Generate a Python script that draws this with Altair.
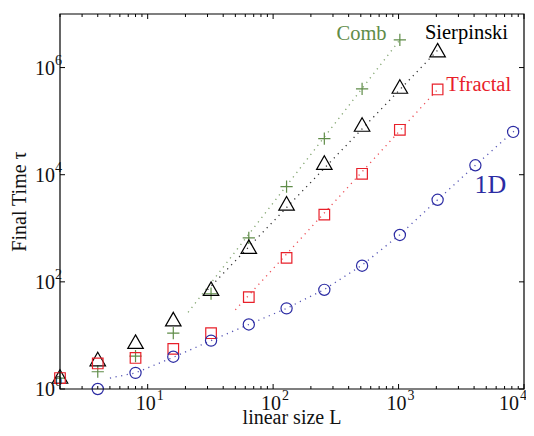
import altair as alt
import pandas as pd

# ---------------- data ----------------
series_names = ["Comb", "Sierpinski", "Tfractal", "1D"]

comb_L = [2, 4, 8, 16, 32, 64, 128, 256, 512, 1024]
comb_tau = [1.6, 2.1, 4.1, 11, 60, 660, 6000, 47000, 400000, 3.3e6]

sier_L = [2, 4, 8, 16, 32, 64, 128, 256, 512, 1024, 2048]
sier_tau = [1.7, 3.6, 7.6, 20, 74, 450, 2900, 16700, 86000, 440000, 2.1e6]

tfr_L = [2, 4, 8, 16, 32, 64, 128, 256, 512, 1024, 2048]
tfr_tau = [1.6, 3.0, 3.8, 5.6, 11, 52, 280, 1800, 10400, 69000, 390000]

oned_L = [4, 8, 16, 32, 64, 128, 256, 512, 1024, 2048, 4096, 8192]
oned_tau = [1.0, 2.0, 4.0, 8.0, 16, 32, 71, 200, 750, 3400, 15000, 63000]

# dotted fit curves
comb_fit_L = [21, 1024]
comb_fit_tau = [27, 3.3e6]
sier_fit_L = [30, 2048]
sier_fit_tau = [71, 2.1e6]
tfr_fit_L = [50, 2048]
tfr_fit_tau = [30, 390000]
oned_fit_L = [5, 8, 16, 32, 64, 128, 256, 512, 1024, 2048, 4096, 8192, 9500]
oned_fit_tau = [1.6, 2.0, 3.9, 8.0, 16, 32, 72, 205, 760, 3400, 15000, 63000, 80000]

# series labels (data coordinates of left end of baseline)
label_text = ["Comb", "Sierpinski", "Tfractal", "1D"]
label_L = [320, 1622, 2400, 4030]
label_tau = [3.27e6, 3.42e6, 3.66e5, 4560]
label_size = [20.5, 20.5, 20.5, 26]

# axes
x_major = [10, 100, 1000, 10000]
x_major_exp = ["1", "2", "3", "4"]
x_minor = [2, 3, 4, 5, 6, 7, 8, 9, 20, 30, 40, 50, 60, 70, 80, 90,
           200, 300, 400, 500, 600, 700, 800, 900,
           2000, 3000, 4000, 5000, 6000, 7000, 8000, 9000]
y_major = [1, 100, 10000, 1000000]
y_major_exp = ["0", "2", "4", "6"]

colors = ["#5f8c48", "#000000", "#e8202a", "#2b2ba3"]
text_colors = ["#6b9455", "#111111", "#e8202a", "#2b2ba3"]
FONT = "Liberation Serif"
W, H = 464, 375

# ---------------- tables ----------------
pts = {
    "Comb": pd.DataFrame({"series": "Comb", "L": comb_L, "tau": comb_tau}),
    "Sierpinski": pd.DataFrame({"series": "Sierpinski", "L": sier_L, "tau": sier_tau}),
    "Tfractal": pd.DataFrame({"series": "Tfractal", "L": tfr_L, "tau": tfr_tau}),
    "1D": pd.DataFrame({"series": "1D", "L": oned_L, "tau": oned_tau}),
}
fits = pd.concat([
    pd.DataFrame({"series": "Comb", "L": comb_fit_L, "tau": comb_fit_tau}),
    pd.DataFrame({"series": "Sierpinski", "L": sier_fit_L, "tau": sier_fit_tau}),
    pd.DataFrame({"series": "Tfractal", "L": tfr_fit_L, "tau": tfr_fit_tau}),
    pd.DataFrame({"series": "1D", "L": oned_fit_L, "tau": oned_fit_tau}),
])
labels = pd.DataFrame({"text": label_text, "L": label_L, "tau": label_tau,
                       "fs": label_size, "series": series_names})

xs = alt.Scale(type="log", domain=[2, 10000], nice=False)
ys = alt.Scale(type="log", domain=[1, 1e7], nice=False)
X = alt.X("L:Q", scale=xs, axis=None)
Y = alt.Y("tau:Q", scale=ys, axis=None)
color = alt.Color("series:N", scale=alt.Scale(domain=series_names, range=colors), legend=None)

shape_of = {
    "Comb": ("M-1,0H1M0,-1V1", 150),
    "Sierpinski": ("M0,-0.9L1,0.85L-1,0.85Z", 240),
    "Tfractal": ("square", 112),
    "1D": ("circle", 125),
}

lines = alt.Chart(fits).mark_line(strokeDash=[1.2, 4.5], strokeWidth=1.3, opacity=0.8).encode(
    x=X, y=Y, color=color, detail="series:N")

point_layers = []
for i, name in enumerate(series_names):
    shp, sz = shape_of[name]
    point_layers.append(
        alt.Chart(pts[name]).mark_point(filled=False, strokeWidth=1.2, opacity=1,
                                        shape=shp, size=sz, color=colors[i]).encode(x=X, y=Y))

series_text = alt.Chart(labels).mark_text(font=FONT, align="left", baseline="alphabetic").encode(
    x=X, y=Y, text="text:N",
    size=alt.Size("fs:Q", scale=None),
    color=alt.Color("series:N", scale=alt.Scale(domain=series_names, range=text_colors), legend=None),
)

frame = alt.Chart(pd.DataFrame({"a": [0]})).mark_rect(
    fillOpacity=0, stroke="black", strokeWidth=1.2).encode(
    x=alt.value(0), x2=alt.value(W), y=alt.value(0), y2=alt.value(H))

xmaj = pd.DataFrame({"L": x_major, "e": x_major_exp})
xmin = pd.DataFrame({"L": x_minor})
ymaj = pd.DataFrame({"tau": y_major, "e": y_major_exp})

tick_layers = []
for df, ln in [(xmaj, 5), (xmin, 3)]:
    tick_layers.append(alt.Chart(df).mark_rule(color="black", strokeWidth=1).encode(
        x=X, y=alt.value(H), y2=alt.value(H - ln)))
    tick_layers.append(alt.Chart(df).mark_rule(color="black", strokeWidth=1).encode(
        x=X, y=alt.value(0), y2=alt.value(ln)))
tick_layers.append(alt.Chart(ymaj).mark_rule(color="black", strokeWidth=1).encode(
    y=Y, x=alt.value(0), x2=alt.value(5)))
tick_layers.append(alt.Chart(ymaj).mark_rule(color="black", strokeWidth=1).encode(
    y=Y, x=alt.value(W), x2=alt.value(W - 5)))

x_labels = []
for flt, shift in [("datum.L < 5000", 0), ("datum.L >= 5000", -13)]:
    base = alt.Chart(xmaj).transform_filter(flt)
    x_labels.append(base.mark_text(font=FONT, fontSize=20, align="right", baseline="middle",
                                   dx=8 + shift, color="#111").encode(
        x=X, y=alt.value(H + 15), text=alt.value("10")))
    x_labels.append(base.mark_text(font=FONT, fontSize=14, align="left", baseline="middle",
                                   dx=9 + shift, color="#111").encode(
        x=X, y=alt.value(H + 7), text="e:N"))

y_ten = alt.Chart(ymaj).mark_text(font=FONT, fontSize=20, align="right", baseline="middle",
                                  dx=-5, dy=1, color="#111").encode(
    y=Y, x=alt.value(0), text=alt.value("10"))
y_exp = alt.Chart(ymaj).mark_text(font=FONT, fontSize=14, align="left", baseline="middle",
                                  dx=-5, dy=-7, color="#111").encode(
    y=Y, x=alt.value(0), text="e:N")

x_title = alt.Chart(pd.DataFrame({"t": ["linear size L"]})).mark_text(
    font=FONT, fontSize=20, align="center", baseline="alphabetic", color="#111").encode(
    x=alt.value(W / 2), y=alt.value(H + 35), text="t:N")
y_title = alt.Chart(pd.DataFrame({"t": ["Final Time  \u03c4"]})).mark_text(
    font=FONT, fontSize=20, align="center", baseline="middle", angle=270, color="#111").encode(
    x=alt.value(-40), y=alt.value(H / 2), text="t:N")

chart = alt.layer(
    lines, *point_layers, series_text, frame, *tick_layers,
    *x_labels, y_ten, y_exp, x_title, y_title
).properties(
    width=W, height=H,
    autosize=alt.AutoSizeParams(type="none"),
    padding={"left": 52, "top": 6, "right": 2, "bottom": 39},
).configure_view(stroke=None)

chart.save("out.html", embed_options={"renderer": "svg", "actions": False})
